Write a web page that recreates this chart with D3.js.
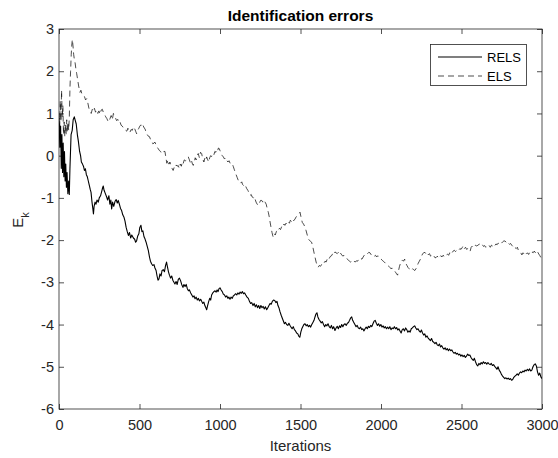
<!DOCTYPE html>
<html>
<head>
<meta charset="utf-8">
<script src="https://cdn.jsdelivr.net/npm/d3@7/dist/d3.min.js"></script>
<style>
  html, body { margin: 0; padding: 0; background: #fff; }
  svg { display: block; font-family: "Liberation Sans", Arial, sans-serif; }
</style>
</head>
<body>
<svg id="chart" width="558" height="458"></svg>
<script>
// ---------------- DATA ----------------
const chartTitle = "Identification errors";
const xLabel = "Iterations";
const seriesNames = ["RELS", "ELS"];
const xTicks = [0, 500, 1000, 1500, 2000, 2500, 3000];
const yTicks = [-6, -5, -4, -3, -2, -1, 0, 1, 2, 3];

const relsIter = [0,5,10,14,18,22,26,30,34,38,42,46,50,55,60,64,68,75,82,88,95,100,107,114,120,128,134,139,146,152,158,164,170,176,182,188,194,199,205,210,214,218,224,230,236,244,250,258,265,271,275,280,288,296,302,310,316,322,327,333,340,348,355,362,368,375,382,389,396,403,410,417,424,431,438,445,452,462,470,476,482,489,496,502,509,515,521,528,534,541,548,555,562,568,575,582,590,596,603,609,615,621,627,634,640,648,655,662,668,673,680,686,693,700,707,714,720,727,734,741,748,755,762,770,776,783,790,797,804,810,818,825,832,839,845,852,859,866,872,880,886,893,900,906,912,917,923,930,936,942,948,955,962,969,976,982,988,994,1000,1007,1014,1021,1028,1035,1042,1049,1055,1062,1069,1076,1083,1090,1097,1104,1111,1118,1125,1132,1139,1146,1153,1160,1168,1176,1183,1190,1197,1205,1212,1219,1226,1233,1240,1247,1254,1261,1268,1275,1282,1290,1297,1304,1311,1318,1325,1332,1340,1347,1354,1360,1366,1373,1380,1387,1393,1400,1407,1414,1421,1428,1435,1441,1448,1455,1462,1469,1476,1483,1490,1496,1502,1508,1514,1521,1528,1535,1542,1549,1556,1563,1570,1577,1584,1590,1596,1602,1608,1615,1622,1629,1636,1643,1650,1657,1664,1671,1678,1685,1692,1699,1706,1714,1721,1728,1735,1742,1749,1756,1763,1770,1777,1784,1791,1798,1805,1812,1818,1824,1831,1838,1845,1852,1859,1866,1873,1880,1887,1894,1901,1908,1915,1922,1929,1936,1943,1950,1957,1964,1971,1978,1985,1992,1999,2006,2013,2020,2027,2034,2041,2048,2055,2062,2069,2076,2083,2090,2097,2104,2111,2118,2125,2132,2139,2146,2153,2160,2167,2174,2181,2188,2195,2202,2209,2216,2223,2230,2237,2244,2251,2258,2265,2272,2279,2286,2293,2300,2307,2314,2321,2328,2335,2342,2349,2356,2363,2370,2377,2384,2391,2398,2405,2412,2419,2426,2433,2440,2447,2454,2461,2468,2475,2482,2489,2496,2503,2510,2517,2524,2531,2538,2545,2552,2559,2566,2573,2580,2587,2594,2601,2608,2615,2622,2629,2636,2643,2650,2657,2664,2671,2678,2685,2692,2699,2706,2713,2720,2727,2734,2741,2748,2755,2762,2769,2776,2783,2790,2797,2804,2811,2818,2825,2832,2839,2846,2853,2860,2867,2874,2881,2888,2895,2902,2909,2916,2923,2930,2937,2944,2951,2958,2965,2972,2979,2986,2993,3000];
const relsVal = [0.9,0.2,0.7,-0.3,0.5,-0.4,0.3,-0.5,0.1,-0.6,-0.2,-0.75,-0.4,-0.9,-0.6,-0.92,-0.3,0.5,0.6,0.85,0.92,0.85,0.75,0.5,0.35,0.1,0.0,-0.15,-0.2,-0.25,-0.35,-0.31,-0.45,-0.5,-0.6,-0.7,-0.8,-0.87,-1.1,-1.25,-1.38,-1.2,-1.1,-1.15,-1.05,-1.1,-1.0,-0.95,-0.85,-0.76,-0.72,-0.82,-0.9,-0.98,-1.05,-0.95,-1.15,-1.05,-1.26,-1.1,-1.2,-1.08,-1.04,-1.12,-1.06,-1.15,-1.25,-1.3,-1.4,-1.45,-1.55,-1.7,-1.8,-1.89,-1.82,-1.95,-1.88,-1.95,-1.98,-2.05,-2.02,-1.9,-1.85,-1.7,-1.65,-1.8,-1.78,-1.92,-1.97,-2.05,-2.15,-2.25,-2.4,-2.5,-2.56,-2.6,-2.58,-2.66,-2.72,-2.85,-2.95,-2.92,-2.8,-2.85,-2.72,-2.7,-2.75,-2.6,-2.52,-2.62,-2.75,-2.83,-2.9,-2.85,-2.95,-3.0,-3.04,-2.98,-3.05,-2.93,-2.9,-2.96,-3.05,-3.12,-3.05,-3.1,-3.05,-3.15,-3.2,-3.18,-3.25,-3.3,-3.35,-3.32,-3.39,-3.35,-3.42,-3.38,-3.44,-3.4,-3.45,-3.5,-3.47,-3.55,-3.6,-3.65,-3.55,-3.45,-3.38,-3.42,-3.3,-3.25,-3.22,-3.2,-3.23,-3.18,-3.22,-3.15,-3.13,-3.18,-3.22,-3.28,-3.3,-3.35,-3.32,-3.38,-3.35,-3.4,-3.35,-3.38,-3.32,-3.3,-3.27,-3.3,-3.25,-3.28,-3.23,-3.26,-3.22,-3.27,-3.25,-3.3,-3.35,-3.38,-3.45,-3.5,-3.48,-3.55,-3.5,-3.58,-3.53,-3.6,-3.55,-3.62,-3.55,-3.6,-3.57,-3.63,-3.58,-3.65,-3.6,-3.55,-3.5,-3.52,-3.45,-3.42,-3.43,-3.48,-3.45,-3.55,-3.6,-3.7,-3.78,-3.85,-3.91,-3.98,-3.95,-4.0,-4.02,-3.97,-4.02,-4.06,-4.1,-4.05,-4.12,-4.15,-4.2,-4.22,-4.28,-4.3,-4.18,-4.1,-4.05,-4.0,-3.98,-4.03,-4.0,-4.05,-4.02,-4.06,-4.0,-3.95,-3.9,-3.82,-3.75,-3.72,-3.82,-3.88,-3.92,-3.96,-3.93,-4.0,-4.05,-4.0,-4.03,-3.98,-4.05,-4.08,-4.02,-4.1,-4.05,-4.14,-4.08,-4.04,-4.1,-4.03,-4.07,-4.0,-4.05,-4.0,-3.98,-4.02,-3.97,-3.95,-3.9,-3.84,-3.82,-3.9,-3.95,-4.0,-4.05,-4.02,-4.08,-4.1,-4.06,-4.12,-4.1,-4.15,-4.1,-4.06,-4.1,-4.04,-4.07,-4.02,-4.05,-3.98,-3.92,-3.9,-3.97,-4.02,-3.98,-4.04,-4.0,-4.06,-4.03,-4.08,-4.05,-4.1,-4.06,-4.1,-4.05,-4.12,-4.08,-4.1,-4.05,-4.1,-4.07,-4.13,-4.1,-4.15,-4.2,-4.12,-4.1,-4.15,-4.08,-4.12,-4.18,-4.15,-4.18,-4.1,-4.08,-4.05,-4.03,-4.08,-4.12,-4.1,-4.15,-4.18,-4.13,-4.2,-4.25,-4.22,-4.3,-4.27,-4.32,-4.35,-4.38,-4.33,-4.4,-4.42,-4.45,-4.42,-4.48,-4.5,-4.46,-4.53,-4.5,-4.55,-4.58,-4.55,-4.6,-4.57,-4.62,-4.58,-4.62,-4.6,-4.65,-4.68,-4.66,-4.7,-4.68,-4.72,-4.7,-4.75,-4.72,-4.76,-4.73,-4.78,-4.75,-4.7,-4.73,-4.72,-4.78,-4.82,-4.85,-4.8,-4.88,-4.95,-4.98,-4.92,-4.95,-4.9,-4.93,-4.88,-4.92,-4.9,-4.94,-4.9,-4.93,-4.95,-4.92,-4.97,-4.95,-4.99,-5.02,-5.06,-5.0,-5.08,-5.12,-5.18,-5.22,-5.25,-5.28,-5.26,-5.29,-5.27,-5.3,-5.28,-5.32,-5.3,-5.25,-5.22,-5.2,-5.17,-5.2,-5.15,-5.12,-5.14,-5.1,-5.12,-5.08,-5.1,-5.06,-5.09,-5.05,-5.1,-5.08,-5.0,-4.95,-4.93,-4.98,-5.12,-5.2,-5.15,-5.24,-5.28];

const elsIter = [0,4,8,12,16,20,24,28,32,36,40,44,48,52,56,60,64,68,72,76,80,83,87,91,95,100,105,110,116,122,130,136,143,151,158,165,172,179,186,193,200,207,213,220,227,234,241,248,255,262,269,276,283,290,297,304,310,317,324,331,338,345,352,358,365,372,379,386,393,400,407,414,421,428,435,441,448,455,462,469,476,482,489,496,502,509,516,522,528,534,541,548,555,562,569,576,583,590,596,603,610,617,624,631,637,644,651,658,664,670,677,683,689,696,702,709,715,722,728,734,740,747,753,760,766,771,778,785,791,797,803,810,817,823,829,834,840,846,852,859,865,872,879,886,893,900,906,912,917,924,930,936,942,948,955,962,968,974,978,984,990,995,1000,1007,1014,1021,1028,1035,1042,1049,1056,1063,1070,1076,1082,1088,1094,1100,1107,1114,1121,1128,1135,1140,1145,1152,1159,1166,1173,1180,1187,1194,1200,1207,1213,1217,1224,1231,1238,1245,1252,1259,1266,1273,1280,1287,1293,1300,1306,1311,1317,1323,1328,1331,1337,1343,1350,1356,1362,1369,1376,1383,1390,1397,1403,1410,1417,1424,1431,1437,1444,1451,1458,1466,1473,1480,1487,1493,1497,1503,1511,1519,1528,1535,1542,1548,1555,1562,1569,1576,1583,1590,1597,1604,1610,1617,1624,1631,1638,1645,1652,1659,1666,1673,1680,1687,1693,1700,1707,1714,1721,1728,1735,1742,1749,1756,1763,1770,1777,1784,1791,1798,1805,1812,1819,1826,1833,1840,1847,1854,1861,1868,1875,1882,1889,1896,1903,1910,1917,1924,1931,1938,1945,1952,1959,1966,1973,1980,1987,1994,2001,2008,2014,2021,2028,2035,2042,2049,2056,2062,2069,2076,2083,2090,2097,2103,2109,2115,2121,2127,2133,2140,2147,2154,2161,2168,2175,2182,2189,2196,2203,2210,2217,2224,2231,2238,2245,2252,2259,2266,2273,2280,2287,2294,2301,2308,2315,2322,2329,2336,2343,2350,2357,2364,2371,2378,2385,2392,2399,2406,2413,2420,2427,2434,2441,2448,2455,2462,2469,2476,2483,2490,2497,2504,2511,2518,2525,2532,2539,2546,2553,2560,2567,2574,2581,2588,2595,2602,2609,2616,2623,2630,2637,2644,2651,2658,2665,2672,2679,2686,2693,2700,2707,2714,2721,2728,2735,2742,2749,2756,2763,2770,2777,2784,2791,2798,2805,2812,2819,2826,2833,2840,2847,2854,2861,2868,2875,2882,2889,2896,2903,2910,2917,2924,2931,2938,2945,2952,2959,2966,2973,2980,2987,2994,3000];
const elsVal = [1.0,0.6,1.3,0.8,1.55,0.9,1.2,0.5,0.8,0.45,0.75,0.5,0.85,0.55,0.8,0.6,0.9,1.6,2.0,2.4,2.65,2.75,2.6,2.4,2.29,2.2,2.05,1.94,1.8,1.65,1.5,1.55,1.45,1.43,1.4,1.32,1.35,1.25,1.12,1.07,1.0,1.1,1.05,1.12,1.03,1.08,1.0,1.06,0.98,1.08,1.1,1.02,0.98,0.92,0.88,0.82,0.8,0.88,0.95,0.85,1.0,0.92,0.88,0.83,0.86,0.78,0.8,0.72,0.7,0.66,0.62,0.6,0.58,0.65,0.55,0.56,0.62,0.6,0.68,0.65,0.58,0.52,0.6,0.65,0.7,0.73,0.68,0.72,0.66,0.64,0.55,0.5,0.46,0.45,0.38,0.35,0.28,0.3,0.32,0.25,0.2,0.16,0.12,0.1,0.05,0.08,0.1,0.1,-0.05,-0.18,-0.1,-0.2,-0.15,-0.25,-0.3,-0.35,-0.28,-0.3,-0.22,-0.25,-0.23,-0.3,-0.2,-0.25,-0.15,-0.19,-0.1,-0.12,-0.11,-0.05,-0.03,-0.1,-0.18,-0.12,-0.2,-0.23,-0.15,-0.05,-0.1,0.02,0.05,-0.05,0.08,0.05,-0.08,-0.15,-0.05,-0.1,-0.03,-0.1,-0.15,-0.05,0.0,-0.02,0.05,0.02,0.1,0.08,0.13,0.1,0.18,0.17,0.12,0.05,0.0,-0.03,-0.08,-0.05,-0.11,-0.15,-0.12,-0.18,-0.2,-0.19,-0.25,-0.32,-0.39,-0.45,-0.52,-0.59,-0.6,-0.65,-0.62,-0.68,-0.7,-0.75,-0.72,-0.78,-0.82,-0.88,-0.94,-0.92,-0.98,-1.0,-0.97,-1.02,-1.1,-1.15,-1.18,-1.12,-1.06,-1.06,-1.1,-1.05,-1.1,-1.15,-1.25,-1.34,-1.45,-1.57,-1.7,-1.82,-1.9,-1.93,-1.85,-1.88,-1.8,-1.75,-1.77,-1.72,-1.75,-1.68,-1.7,-1.62,-1.65,-1.6,-1.63,-1.57,-1.6,-1.53,-1.56,-1.5,-1.54,-1.5,-1.45,-1.42,-1.38,-1.36,-1.34,-1.45,-1.58,-1.62,-1.69,-1.78,-1.88,-1.97,-2.0,-2.03,-2.05,-2.15,-2.28,-2.4,-2.52,-2.6,-2.64,-2.6,-2.62,-2.58,-2.6,-2.55,-2.5,-2.52,-2.45,-2.48,-2.42,-2.38,-2.37,-2.32,-2.35,-2.28,-2.3,-2.32,-2.29,-2.35,-2.31,-2.35,-2.38,-2.36,-2.4,-2.41,-2.45,-2.48,-2.5,-2.52,-2.5,-2.53,-2.5,-2.52,-2.49,-2.5,-2.46,-2.48,-2.44,-2.45,-2.4,-2.36,-2.33,-2.3,-2.32,-2.29,-2.3,-2.34,-2.37,-2.35,-2.38,-2.36,-2.4,-2.37,-2.42,-2.44,-2.45,-2.48,-2.5,-2.52,-2.55,-2.58,-2.6,-2.62,-2.65,-2.68,-2.66,-2.7,-2.72,-2.76,-2.8,-2.83,-2.72,-2.62,-2.55,-2.5,-2.47,-2.5,-2.45,-2.55,-2.6,-2.65,-2.68,-2.7,-2.72,-2.68,-2.7,-2.72,-2.68,-2.62,-2.55,-2.5,-2.45,-2.38,-2.32,-2.3,-2.29,-2.33,-2.3,-2.35,-2.32,-2.38,-2.36,-2.4,-2.38,-2.42,-2.41,-2.38,-2.43,-2.4,-2.37,-2.4,-2.36,-2.38,-2.33,-2.35,-2.33,-2.36,-2.3,-2.34,-2.3,-2.26,-2.24,-2.27,-2.25,-2.22,-2.24,-2.2,-2.22,-2.18,-2.13,-2.2,-2.17,-2.22,-2.2,-2.25,-2.27,-2.17,-2.14,-2.18,-2.15,-2.12,-2.14,-2.12,-2.1,-2.09,-2.13,-2.11,-2.15,-2.13,-2.17,-2.14,-2.16,-2.13,-2.17,-2.12,-2.14,-2.1,-2.13,-2.09,-2.11,-2.07,-2.09,-2.05,-2.07,-2.04,-2.02,-2.02,-2.05,-2.03,-2.07,-2.1,-2.08,-2.12,-2.15,-2.13,-2.18,-2.2,-2.17,-2.25,-2.28,-2.3,-2.35,-2.3,-2.33,-2.29,-2.33,-2.3,-2.34,-2.29,-2.32,-2.28,-2.3,-2.26,-2.3,-2.25,-2.28,-2.33,-2.37,-2.42,-2.4];

// ---------------- LAYOUT ----------------
const W = 558, H = 458;
const m = { left: 59, right: 16, top: 29, bottom: 49 };
const pw = W - m.left - m.right, ph = H - m.top - m.bottom;
const axisColor = "#262626";
const fmt = d => String(d);

const svg = d3.select("#chart");
const x = d3.scaleLinear().domain([0, 3000]).range([m.left, m.left + pw]);
const y = d3.scaleLinear().domain([-6, 3]).range([m.top + ph, m.top]);

svg.append("defs").append("clipPath").attr("id", "clip")
  .append("rect").attr("x", m.left).attr("y", m.top).attr("width", pw).attr("height", ph);

// Axes (ticks inside, MATLAB style)
const tickLen = 5;
const gB = svg.append("g").attr("transform", `translate(0,${m.top + ph})`)
  .call(d3.axisBottom(x).tickValues(xTicks).tickFormat(fmt).tickSizeInner(-tickLen).tickSizeOuter(0).tickPadding(11));
const gT = svg.append("g").attr("transform", `translate(0,${m.top})`)
  .call(d3.axisTop(x).tickValues(xTicks).tickSizeInner(-tickLen).tickSizeOuter(0).tickFormat(""));
const gL = svg.append("g").attr("transform", `translate(${m.left},0)`)
  .call(d3.axisLeft(y).tickValues(yTicks).tickFormat(fmt).tickSizeInner(-tickLen).tickSizeOuter(0).tickPadding(5));
const gR = svg.append("g").attr("transform", `translate(${m.left + pw},0)`)
  .call(d3.axisRight(y).tickValues(yTicks).tickSizeInner(-tickLen).tickSizeOuter(0).tickFormat(""));

[gB, gT, gL, gR].forEach(g => {
  g.select(".domain").remove();
  g.selectAll(".tick line").attr("stroke", axisColor).attr("stroke-width", 0.8);
  g.selectAll(".tick text").attr("fill", axisColor)
    .style("font-family", "'Liberation Sans', Arial, sans-serif").style("font-size", "14.5px");
});

// Box
svg.append("rect").attr("x", m.left).attr("y", m.top).attr("width", pw).attr("height", ph)
  .attr("fill", "none").attr("stroke", axisColor).attr("stroke-width", 0.8);

// Lines
const rels = relsIter.map((d, i) => [d, relsVal[i]]);
const els = elsIter.map((d, i) => [d, elsVal[i]]);
const line = d3.line().x(d => x(d[0])).y(d => y(d[1]));

const plot = svg.append("g").attr("clip-path", "url(#clip)");
plot.append("path").datum(els).attr("d", line)
  .attr("fill", "none").attr("stroke", "#000").attr("stroke-width", 0.7)
  .attr("stroke-dasharray", "6,4");
plot.append("path").datum(rels).attr("d", line)
  .attr("fill", "none").attr("stroke", "#000").attr("stroke-width", 1.1)
  .attr("stroke-linejoin", "round");

// Title
svg.append("text").attr("x", m.left + pw / 2).attr("y", 21)
  .attr("text-anchor", "middle").attr("font-weight", "bold").attr("font-size", "15.5px")
  .attr("fill", "#000").text(chartTitle);

// X label
svg.append("text").attr("x", m.left + pw / 2).attr("y", 451)
  .attr("text-anchor", "middle").attr("font-size", "15px").attr("fill", axisColor).text(xLabel);

// Y label E_k
const yl = svg.append("text").attr("transform", "translate(23,220) rotate(-90)")
  .attr("text-anchor", "middle").attr("font-size", "15px").attr("fill", axisColor);
yl.append("tspan").text("E");
yl.append("tspan").attr("font-size", "11px").attr("dy", 6).text("k");

// Legend
const lg = svg.append("g");
lg.append("rect").attr("x", 430.5).attr("y", 44.5).attr("width", 96).attr("height", 41)
  .attr("fill", "#fff").attr("stroke", axisColor).attr("stroke-width", 0.8);
const legendRows = [
  { name: seriesNames[0], y: 57, dash: null, w: 1.1 },
  { name: seriesNames[1], y: 76, dash: "6,4", w: 0.7 }
];
legendRows.forEach(r => {
  lg.append("line").attr("x1", 438).attr("x2", 482).attr("y1", r.y).attr("y2", r.y)
    .attr("stroke", "#000").attr("stroke-width", r.w).attr("stroke-dasharray", r.dash);
  lg.append("text").attr("x", 487).attr("y", r.y).attr("dy", "0.35em")
    .attr("font-size", "13px").attr("fill", "#000").text(r.name);
});
</script>
</body>
</html>
